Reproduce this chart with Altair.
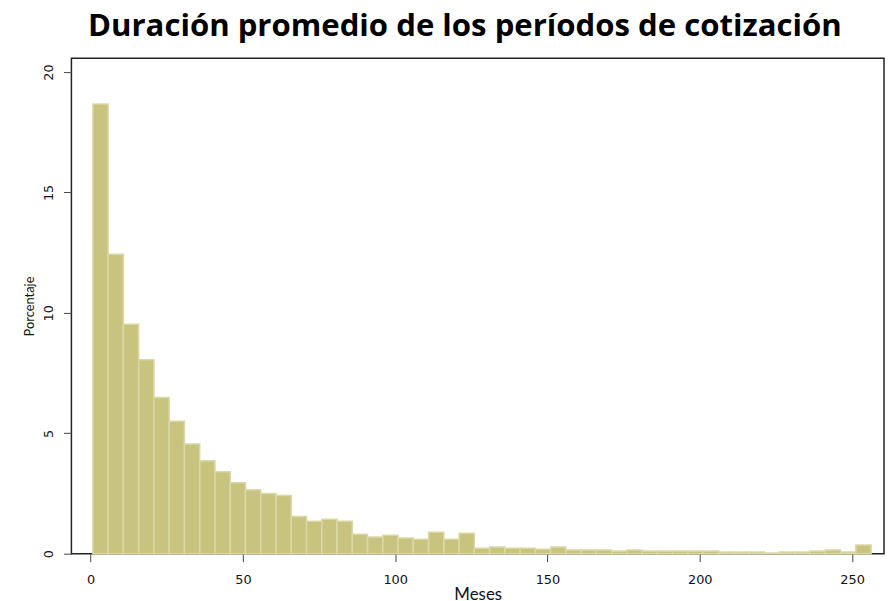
import altair as alt
import pandas as pd

# Histogram bins (months) and percentages
bin_start = 0.75
bin_width = 5.01
porcentaje = [18.67, 12.43, 9.53, 8.05, 6.49, 5.50, 4.56, 3.86, 3.40, 2.95,
              2.66, 2.50, 2.42, 1.55, 1.35, 1.43, 1.35, 0.81, 0.69, 0.77,
              0.65, 0.60, 0.89, 0.60, 0.85, 0.23, 0.28, 0.23, 0.23, 0.19,
              0.28, 0.15, 0.15, 0.15, 0.11, 0.15, 0.11, 0.11, 0.11, 0.11,
              0.11, 0.07, 0.07, 0.07, 0.03, 0.07, 0.07, 0.11, 0.15, 0.07,
              0.36]
x_ticks = [0, 50, 100, 150, 200, 250]
y_ticks = [0, 5, 10, 15, 20]

starts = [bin_start + i * bin_width for i in range(len(porcentaje))]
ends = [s + bin_width for s in starts]
df = pd.DataFrame({"inicio": starts, "fin": ends, "porcentaje": porcentaje})

bars = alt.Chart(df).mark_bar(
    fill="#C9C380", stroke="#DCD8A6", strokeWidth=1.5
).encode(
    x=alt.X("inicio:Q",
            scale=alt.Scale(domain=[-6.3, 260.5], nice=False, zero=False),
            axis=alt.Axis(values=x_ticks, title="Meses", grid=False, domain=False,
                          tickSize=8, tickColor="#444", labelFont="DejaVu Sans",
                          labelFontSize=13, labelColor="#111", labelPadding=12,
                          titleFont="Lato", titleFontSize=17, titleFontWeight="normal",
                          titleColor="#111", titlePadding=0)),
    x2="fin:Q",
    y=alt.Y("porcentaje:Q",
            scale=alt.Scale(domain=[0, 20.57], nice=False),
            axis=alt.Axis(values=y_ticks, title="Porcentaje", grid=False, domain=False,
                          tickSize=8, tickColor="#444", labelFont="DejaVu Sans",
                          labelFontSize=13, labelColor="#111", labelAngle=270,
                          labelAlign="center", labelBaseline="bottom", labelPadding=8,
                          titleFont="Lato", titleFontSize=13, titleFontWeight="normal",
                          titleColor="#111", titlePadding=6)),
    y2=alt.datum(0),
)

chart = bars.properties(
    width=820,
    height=500,
    title=alt.TitleParams(
        "Duración promedio de los períodos de cotización",
        font="Open Sans", fontSize=31.4, fontWeight="bold", color="black",
        anchor="middle", frame="group", offset=16, dx=-13),
    autosize=alt.AutoSizeParams(type="none"),
    padding={"left": 64, "top": 48, "right": 2, "bottom": 45},
).configure_view(stroke="#222", strokeWidth=1.5)

chart.save("out.html", embed_options={"renderer": "svg", "actions": False})
